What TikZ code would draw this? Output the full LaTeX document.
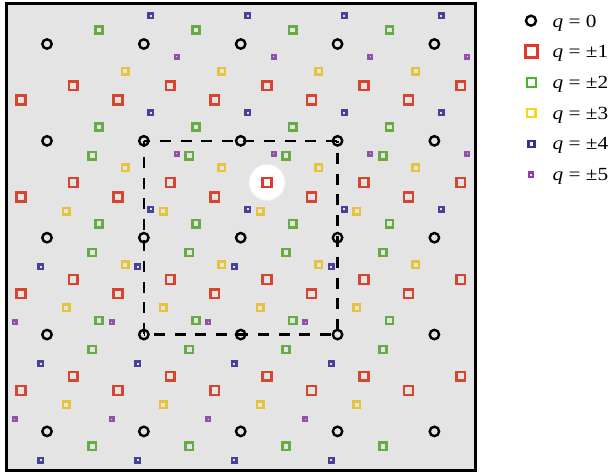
\documentclass[tikz,border=0pt]{standalone}
\usepackage{fontspec}
\newfontfamily\legfont[FakeStretch=1.15]{Liberation Serif}
\definecolor{bggray}{HTML}{E4E4E4}
\definecolor{mred}{HTML}{D5452F}
\definecolor{mgreen}{HTML}{66AC45}
\definecolor{myellow}{HTML}{E5C43C}
\definecolor{mblue}{HTML}{46429A}
\definecolor{mpurple}{HTML}{9350A8}
\definecolor{lred}{HTML}{E0382A}
\definecolor{lgreen}{HTML}{44B82A}
\definecolor{lyellow}{HTML}{FFD21A}
\definecolor{lblue}{HTML}{33339A}
\definecolor{lpurple}{HTML}{9933BB}
\begin{document}
\begin{tikzpicture}[x=1pt,y=-1pt,
  mk/.style={rectangle, inner sep=0pt, line width=2.5pt},
  qzero/.style={circle, draw=black, line width=2.4pt, inner sep=0pt, minimum size=9.4pt},
  qone/.style={mk, draw=mred, minimum size=8.8pt},
  qtwo/.style={mk, draw=mgreen, minimum size=7.2pt},
  qthree/.style={mk, draw=myellow, minimum size=6.5pt},
  qfour/.style={mk, draw=mblue, minimum size=4.6pt},
  qfive/.style={mk, draw=mpurple, minimum size=3.6pt},
  cellline/.style={draw=black, line width=2.2pt, dash pattern=on 11pt off 9.8pt},
  legtext/.style={anchor=base west, inner sep=0pt, font=\legfont\fontsize{18.5}{20}\selectfont}
]
\useasboundingbox (0,0) rectangle (610,474);
% frame
\node[rectangle, draw=black, fill=bggray, line width=2.6pt, minimum width=469pt, minimum height=467pt, inner sep=0pt] (frame) at (240.8,237) {};
% q = 0
\foreach \i in {0,...,4} \foreach \j in {0,...,4}
  \node[qzero] (c\i\j) at ({47+96.85*\i},{44+96.85*\j}) {};
% q = +-1
\foreach \i in {0,...,4} \foreach \j in {0,...,3} {
  \node[qone] (ra\i\j) at ({73.3+96.85*\i},{85.7+96.85*\j}) {};
  \node[qone] (rb\i\j) at ({21+96.85*\i},{100+96.85*\j}) {};
}
% q = +-2
\foreach \i in {0,...,3} \foreach \j in {0,...,3} {
  \node[qtwo] (ga\i\j) at ({99+96.85*\i},{30+96.85*\j}) {};
  \node[qtwo] (gb\i\j) at ({92.3+96.85*\i},{155.7+96.85*\j}) {};
}
% q = +-3
\foreach \i in {0,...,3} \foreach \j in {0,...,2} {
  \node[qthree] (ya\i\j) at ({125+96.85*\i},{71+96.85*\j}) {};
  \node[qthree] (yb\i\j) at ({66.3+96.85*\i},{211+96.85*\j}) {};
}
% q = +-4
\foreach \i in {0,...,3} \foreach \j in {0,...,2} {
  \node[qfour] (ba\i\j) at ({150.7+96.85*\i},{15.7+96.85*\j}) {};
  \node[qfour] (bb\i\j) at ({40.7+96.85*\i},{266.7+96.85*\j}) {};
}
% q = +-5
\foreach \i in {0,...,3} \foreach \j in {0,...,1} {
  \node[qfive] (pa\i\j) at ({176.7+96.85*\i},{56.7+96.85*\j}) {};
  \node[qfive] (pb\i\j) at ({14.7+96.85*\i},{322.3+96.85*\j}) {};
}
% unit cell
\draw[cellline, dash phase=4.8pt] (c11.center) -- (c31.center);
\draw[cellline, dash phase=4.8pt] (c11.center) -- (c13.center);
\draw[cellline, dash phase=8.8pt] (c31.center) -- (c33.center);
\draw[cellline, dash phase=10.8pt] (c13.center) -- (c33.center);
% highlighted site
\node[circle, fill=white, draw=white!94!black, line width=1pt, minimum size=36pt, inner sep=0pt] (hole) at (267,182.4) {};
\node[mk, draw=lred, minimum size=8.8pt] (special) at (hole.center) {};
% legend
\node[qzero, minimum size=10pt] (l0) at (531,20.7) {};
\node[mk, draw=lred, minimum size=12pt] (l1) at (531.5,51.5) {};
\node[mk, draw=lgreen, minimum size=9pt] (l2) at (531.5,82.3) {};
\node[mk, draw=lyellow, minimum size=8.2pt] (l3) at (531.3,113.1) {};
\node[mk, draw=lblue, minimum size=6pt] (l4) at (531.5,143.9) {};
\node[mk, draw=lpurple, line width=2.3pt, minimum size=4.2pt] (l5) at (531,174.7) {};
\node[legtext] (t0) at (552.5,27.3) {\textit{q} = 0};
\node[legtext] (t1) at (552.5,57.9) {\textit{q} = ±1};
\node[legtext] (t2) at (552.5,88.5) {\textit{q} = ±2};
\node[legtext] (t3) at (552.5,119.1) {\textit{q} = ±3};
\node[legtext] (t4) at (552.5,149.7) {\textit{q} = ±4};
\node[legtext] (t5) at (552.5,180.3) {\textit{q} = ±5};
\end{tikzpicture}
\end{document}
